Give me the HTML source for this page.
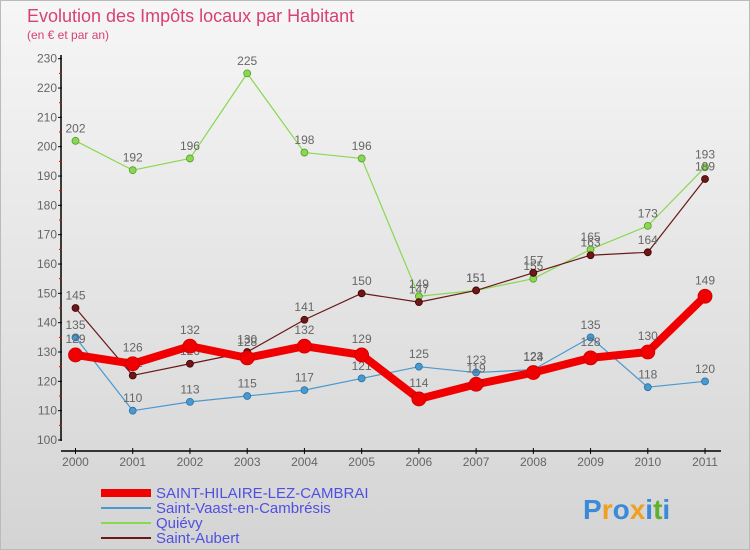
<!DOCTYPE html>
<html><head><meta charset="utf-8"><style>
body{margin:0;width:750px;height:550px;overflow:hidden;font-family:"Liberation Sans",sans-serif}
#wrap{position:relative;width:748px;height:548px;border:1px solid #bbb;background:linear-gradient(#f6f6f6,#d4d4d4)}
</style></head><body>
<div id="wrap">
<svg id="chart" width="748" height="548" style="position:absolute;left:0;top:0"></svg>
</div>
<script>
const years=["2000","2001","2002","2003","2004","2005","2006","2007","2008","2009","2010","2011"];
const sHilaire=[129,126,132,128,132,129,114,119,123,128,130,149];
const sVaast=[135,110,113,115,117,121,125,123,124,135,118,120];
const quievy=[202,192,196,225,198,196,149,151,155,165,173,193];
const sAubert=[145,122,126,130,141,150,147,151,157,163,164,189];
const yTicks=[100,110,120,130,140,150,160,170,180,190,200,210,220,230];
const NS="http://www.w3.org/2000/svg";
const svg=document.getElementById('chart');
const X=i=>74.5+i*57.23;
const Y=v=>439-(v-100)*2.933;
function mk(t,a,p){const e=document.createElementNS(NS,t);for(const k in a)e.setAttribute(k,a[k]);(p||svg).appendChild(e);return e;}
function tx(x,y,s,a){const e=mk('text',Object.assign({x:x,y:y},a));e.textContent=s;return e;}
let t=tx(26,21,"Evolution des Impôts locaux par Habitant",{fill:"#d84078","font-size":18});

t=tx(26,38,"(en € et par an)",{fill:"#d84078","font-size":12});

const ax=mk('g',{});
mk('line',{x1:60,y1:54,x2:60,y2:440,stroke:"#000","stroke-width":1.5},ax);
yTicks.forEach(v=>{mk('line',{x1:57,y1:Y(v),x2:61,y2:Y(v),stroke:"#000"},ax);
 if(v<230)mk('line',{x1:58,y1:Y(v+5),x2:61,y2:Y(v+5),stroke:"#e00"},ax);
 const l=tx(56,Y(v)+4,String(v),{fill:"#666","font-size":12,"text-anchor":"end"},ax);});
const xa=mk('g',{});
mk('line',{x1:60,y1:450,x2:720,y2:450,stroke:"#000","stroke-width":1.5},xa);
years.forEach((y,i)=>{mk('line',{x1:X(i),y1:447,x2:X(i),y2:453,stroke:"#000"},xa);
 const l=tx(X(i),465,y,{fill:"#666","font-size":12,"text-anchor":"middle"},xa);});
function series(data,color,w,r,name,stroke){
 const g=mk('g',{});
 mk('polyline',{points:data.map((v,i)=>X(i)+","+Y(v)).join(" "),fill:"none",stroke:color,"stroke-width":w,"stroke-linejoin":"round"},g);
 data.forEach((v,i)=>{const c=mk('circle',{cx:X(i),cy:Y(v),r:r,fill:color,stroke:stroke,"stroke-width":0.8},g);
  const l=tx(X(i),Y(v)-r-5,String(v),{fill:"#666","font-size":12,"text-anchor":"middle"},g);});
}
series(quievy,"#88d850",1.2,3.5,"series-quievy","#5a9a30");
series(sAubert,"#6a1818",1.2,3.5,"series-saint-aubert","#400");
series(sVaast,"#4a98d0",1.2,3.5,"series-saint-vaast","#2a70a0");
series(sHilaire,"#f00000",8,7,"series-saint-hilaire","#c00");
const lg=mk('g',{});
const leg=[["SAINT-HILAIRE-LEZ-CAMBRAI","#f00000",8],["Saint-Vaast-en-Cambrésis","#4a98d0",2],["Quiévy","#88d850",2],["Saint-Aubert","#6a1818",2]];
leg.forEach((e,i)=>{const y=492+i*15;const it=mk('g',{},lg);
 mk('line',{x1:100,y1:y,x2:150,y2:y,stroke:e[1],"stroke-width":e[2]},it);
 tx(155,y+5,e[0],{fill:"#5050e0","font-size":15},it);});
const lo=tx(582,518,"",{"font-size":28,"font-weight":"bold"});
[["P","#3a8ad8"],["r","#f0a020"],["o","#3a8ad8"],["x","#f0a020"],["i","#3a8ad8"],["t","#60b030"],["i","#3a8ad8"]].forEach(c=>{const s=mk('tspan',{fill:c[1]},lo);s.textContent=c[0];});
</script>
</body></html>
